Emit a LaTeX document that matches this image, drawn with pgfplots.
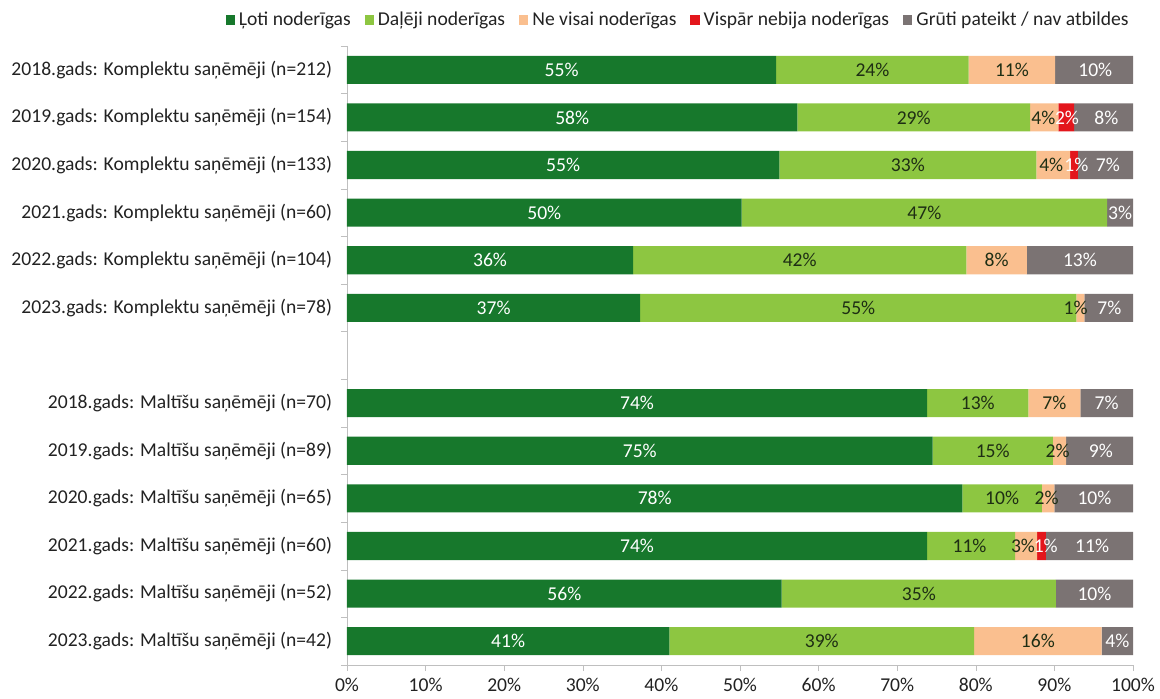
\documentclass[border=0pt]{standalone}
\usepackage{pgfplots}
\pgfplotsset{compat=1.18}
\usepackage{pgfplotstable}
\usepackage{fontspec}
\setmainfont{Carlito}
\definecolor{cDark}{HTML}{17782C}
\definecolor{cLight}{HTML}{8DC641}
\definecolor{cPeach}{HTML}{FABF8F}
\definecolor{cRed}{HTML}{E3161C}
\definecolor{cGray}{HTML}{7B7373}
\definecolor{txt}{HTML}{222222}
\definecolor{dtxt}{HTML}{1E2E14}
\definecolor{axgray}{HTML}{BFBFBF}
\pgfplotstableread{
y dark light peach red gray
0 54.6 24.5 11.0 0 9.9
1 57.3 29.6 3.6 2.0 7.5
2 55.0 32.7 4.3 1.0 7.0
3 50.2 46.5 0 0 3.3
4 36.4 42.4 7.7 0 13.5
5 37.3 55.5 1.0 0 6.2
7 73.8 12.9 6.6 0 6.7
8 74.5 15.3 1.7 0 8.5
9 78.3 10.1 1.6 0 10.0
10 73.8 11.2 2.8 1.1 11.1
11 55.3 34.9 0 0 9.8
12 41.0 38.8 16.2 0 4.0
}\data
\begin{document}
\fontsize{9.8}{11.5}\selectfont
\begin{tikzpicture}
\begin{axis}[
  scale only axis, width=393pt, height=309.5pt,
  xmin=0, xmax=100, ymin=-0.5, ymax=12.5, y dir=reverse,
  xbar stacked, bar width=0.59,
  axis lines=left, axis line style={-, draw=axgray},
  xtick={0,10,...,100},
  xticklabels={0\%,10\%,20\%,30\%,40\%,50\%,60\%,70\%,80\%,90\%,100\%},
  ytick={0,1,2,3,4,5,7,8,9,10,11,12},
  yticklabels={
    2018.gads: Komplektu saņēmēji (n=212),
    2019.gads: Komplektu saņēmēji (n=154),
    2020.gads: Komplektu saņēmēji (n=133),
    2021.gads: Komplektu saņēmēji (n=60),
    2022.gads: Komplektu saņēmēji (n=104),
    2023.gads: Komplektu saņēmēji (n=78),
    2018.gads: Maltīšu saņēmēji (n=70),
    2019.gads: Maltīšu saņēmēji (n=89),
    2020.gads: Maltīšu saņēmēji (n=65),
    2021.gads: Maltīšu saņēmēji (n=60),
    2022.gads: Maltīšu saņēmēji (n=52),
    2023.gads: Maltīšu saņēmēji (n=42)},
  minor ytick={-0.5,0.5,...,12.5},
  y tick style={draw=none},
  minor y tick style={draw=axgray},
  x tick style={draw=axgray},
  tick align=outside, major tick length=3pt, minor tick length=3pt,
  ticklabel style={font=\fontsize{9.8}{11.5}\selectfont, text=txt},
  yticklabel style={xshift=-1pt},
  legend style={at={(1,1)}, anchor=east, yshift=13pt, draw=none, fill=none,
    inner xsep=0pt, font=\fontsize{9.8}{11.5}\selectfont, text=txt,
    /tikz/every even column/.append style={column sep=5pt}},
  legend columns=5,
  legend cell align=left,
  legend image code/.code={\fill[#1] (0pt,-2.3pt) rectangle (4.6pt,2.3pt);},
]
\addplot[fill=cDark, draw=none] table[x=dark, y=y] {\data};
\addlegendentry{Ļoti noderīgas}
\addplot[fill=cLight, draw=none] table[x=light, y=y] {\data};
\addlegendentry{Daļēji noderīgas}
\addplot[fill=cPeach, draw=none] table[x=peach, y=y] {\data};
\addlegendentry{Ne visai noderīgas}
\addplot[fill=cRed, draw=none] table[x=red, y=y] {\data};
\addlegendentry{Vispār nebija noderīgas}
\addplot[fill=cGray, draw=none] table[x=gray, y=y] {\data};
\addlegendentry{Grūti pateikt / nav atbildes}
\end{axis}
\begin{axis}[
  scale only axis, width=393pt, height=309.5pt,
  xmin=0, xmax=100, ymin=-0.5, ymax=12.5, y dir=reverse,
  hide axis, clip=false,
  nodes near coords, point meta=explicit symbolic,
  every node near coord/.append style={anchor=center, inner sep=0pt,
    font=\fontsize{9.8}{11.5}\selectfont},
]
% labels on dark green
\addplot[only marks, mark=none, every node near coord/.append style={text=white}]
coordinates {(27.3,0)[55\%] (28.65,1)[58\%] (27.5,2)[55\%] (25.1,3)[50\%]
 (18.2,4)[36\%] (18.65,5)[37\%] (36.9,7)[74\%] (37.25,8)[75\%] (39.15,9)[78\%]
 (36.9,10)[74\%] (27.65,11)[56\%] (20.5,12)[41\%]};
% labels on light green
\addplot[only marks, mark=none, every node near coord/.append style={text=dtxt}]
coordinates {(66.85,0)[24\%] (72.1,1)[29\%] (71.35,2)[33\%] (73.45,3)[47\%]
 (57.6,4)[42\%] (65.05,5)[55\%] (80.25,7)[13\%] (82.15,8)[15\%] (83.35,9)[10\%]
 (79.2,10)[11\%] (72.75,11)[35\%] (60.4,12)[39\%]};
% labels on peach
\addplot[only marks, mark=none, every node near coord/.append style={text=dtxt}]
coordinates {(84.6,0)[11\%] (88.6,1)[4\%] (89.6,2)[4\%] (82.65,4)[8\%]
 (92.7,5)[1\%] (90.0,7)[7\%] (90.4,8)[2\%] (89.0,9)[2\%] (86.0,10)[3\%] (87.9,12)[16\%]};
% labels on red
\addplot[only marks, mark=none, every node near coord/.append style={text=white}]
coordinates {(91.6,1)[2\%] (92.8,2)[1\%] (88.9,10)[1\%]};
% labels on gray
\addplot[only marks, mark=none, every node near coord/.append style={text=white}]
coordinates {(95.2,0)[10\%] (96.6,1)[8\%] (96.8,2)[7\%] (98.35,3)[3\%]
 (93.25,4)[13\%] (97.0,5)[7\%] (96.65,7)[7\%] (95.9,8)[9\%] (95.1,9)[10\%]
 (94.8,10)[11\%] (95.1,11)[10\%] (98.0,12)[4\%]};
\end{axis}
\pgfresetboundingbox
\path (-173.5pt,-17pt) rectangle (406.5pt,332.5pt);
\end{tikzpicture}
\end{document}
